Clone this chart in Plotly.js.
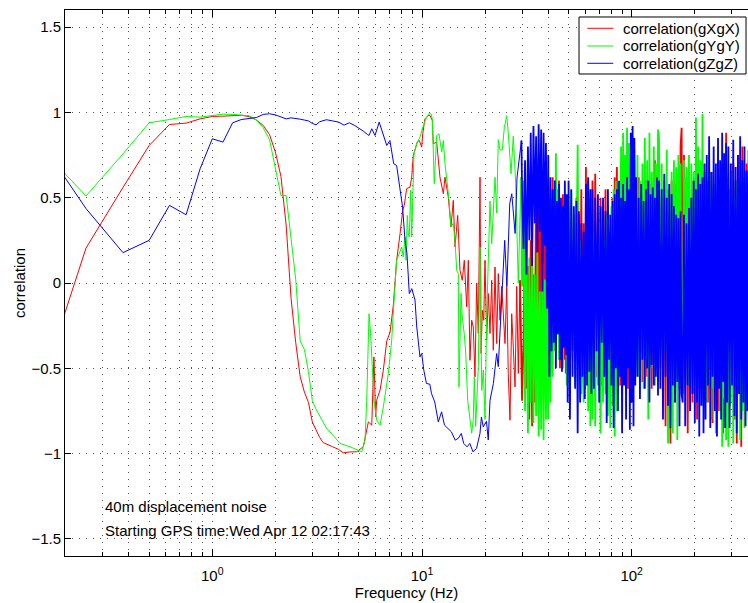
<!DOCTYPE html>
<html>
<head>
<meta charset="utf-8">
<script src="https://cdn.plot.ly/plotly-3.0.1.min.js"></script>
<style>
html,body{margin:0;padding:0;background:#fff;overflow:hidden;}
#chart{width:748px;height:603px;}
</style>
</head>
<body>
<div id="chart"></div>
<script>
// ---- low-frequency part (individual points) ----
const freqX = [0.125,0.25,0.375,0.5,0.625,0.75,0.875,1.0,1.125,1.25,1.375,1.5,1.625,1.75,1.875,2.0,2.125,2.25,2.375,2.5,
  2.625,2.75,2.875,3.0,3.125,3.25,3.375,3.5,3.75,4.0,4.21,4.54,4.88,5.25,5.55,5.76,5.90,6.01,6.08,6.31,
  6.54,6.79,7.04,7.30,7.57,7.86,8.09,8.23,8.45,8.77,8.93,9.09,9.26,9.50,9.71,9.97,10.08,10.33,10.72,10.92,
  11.2,11.32,11.75,12.18,12.64,12.87,13.35,13.75,14.1,14.37,14.8,15.18,15.56,15.91,16.34,16.63,16.93,17.26,17.56,17.89,
  18.23,18.56,18.91,19.14,19.40,19.70,19.97,20.35,20.71,21.1,21.5,21.88,22.29,22.71,23.11,23.55,23.99,24.88,25.35,25.79,
  26.28,26.78,27.25,27.77,28.29,28.79,29.34];
const corrX = [-0.93,0.205,0.56,0.806,0.929,0.937,0.962,0.976,0.978,0.982,0.983,0.975,0.955,0.923,0.87,0.767,0.625,0.34,-0.09,-0.35,
  -0.55,-0.64,-0.70,-0.815,-0.86,-0.905,-0.935,-0.945,-0.96,-0.975,-0.995,-0.99,-0.989,-0.96,-0.814,-0.833,-0.433,-0.785,-0.687,-0.628,
  -0.511,-0.34,-0.29,-0.13,0.133,0.289,0.426,0.455,0.553,0.562,0.62,0.748,0.777,0.826,0.835,0.796,0.875,0.962,0.982,0.982,
  0.952,0.816,0.826,0.62,0.523,0.62,0.503,0.328,0.484,0.211,0.396,0.074,0.016,0.133,-0.14,0.133,-0.453,-0.218,-0.258,-0.55,
  0.0,-0.296,0.62,-0.413,-0.16,-0.218,0.133,-0.335,-0.062,-0.296,0.016,-0.394,0.094,-0.355,0.055,-0.218,-0.02,-0.355,-0.02,-0.53,
  -0.804,-0.18,-0.375,-0.609,-0.02,-0.53,0.016];

const freqY = [0.125,0.25,0.375,0.5,0.625,0.75,0.875,1.0,1.125,1.25,1.375,1.5,1.625,1.75,1.875,2.0,2.125,2.25,2.375,2.5,
  2.625,2.75,2.875,3.0,3.125,3.25,3.375,3.5,3.75,4.06,4.54,4.97,5.16,5.35,5.45,5.59,5.69,5.90,6.08,6.31,
  6.54,6.91,7.17,7.36,7.57,8.00,8.14,8.30,8.39,8.51,8.60,8.70,8.83,8.93,9.03,9.16,9.43,9.78,10.14,10.53,
  10.83,11.04,11.2,11.44,11.75,12.05,12.42,12.64,12.87,13.12,13.45,13.75,14.1,14.37,14.64,14.9,15.01,15.35,15.56,15.91,
  16.16,16.52,16.93,17.26,17.56,17.76,18.03,18.56,18.91,19.27,19.61,19.97,20.35,20.71,21.1,21.5,21.88,22.29,22.71,23.11,
  23.55,24.15,24.69,25.35,25.79,26.57,27.25,27.98,28.79,29.66];
const corrY = [0.90,0.51,0.757,0.939,0.958,0.976,0.972,0.982,0.99,0.988,0.986,0.98,0.955,0.91,0.84,0.66,0.513,0.513,0.24,0.02,
  -0.34,-0.39,-0.52,-0.69,-0.74,-0.78,-0.82,-0.85,-0.89,-0.94,-0.96,-0.98,-0.989,-0.921,-0.687,-0.18,-0.296,-0.687,-0.804,-0.833,
  -0.726,-0.53,-0.335,-0.1,0.133,0.211,0.152,0.269,0.133,0.396,0.289,0.269,0.543,0.269,0.523,0.757,0.816,0.855,0.923,0.972,
  0.992,0.992,0.962,0.582,0.865,0.875,0.767,0.835,0.70,0.62,0.49,0.33,0.35,0.25,0.074,0.055,-0.61,-0.06,-0.20,-0.30,
  -0.41,-0.69,-0.82,-0.88,-0.80,-0.55,-0.84,-0.49,0.21,-0.63,-0.51,-0.80,-0.20,0.09,0.48,0.23,0.43,0.62,0.41,0.84,
  0.78,0.78,0.91,0.98,0.88,0.64,0.86,0.58,0.0,0.62];

const freqZ = [0.125,0.25,0.375,0.5,0.625,0.75,0.875,1.0,1.125,1.25,1.375,1.5,1.625,1.75,1.875,2.0,2.125,2.25,2.375,2.5,
  2.625,2.75,2.875,3.0,3.125,3.25,3.375,3.5,3.75,4.0,4.25,4.5,4.75,5.0,5.25,5.5,5.59,5.76,5.97,6.25,
  6.54,6.79,7.03,7.33,7.57,7.86,8.08,8.30,8.48,8.70,8.94,9.26,9.44,9.78,9.97,10.2,10.5,10.9,11.1,11.5,
  11.96,12.4,12.8,13.3,13.8,14.4,14.9,15.4,15.8,16.4,16.9,17.5,18.2,18.9,19.2,19.6,20.3,20.7,21.1,21.9,
  22.7,23.1,24.0,24.8,25.4,26.2,26.8,27.8,28.4,29.3,29.8];
const corrZ = [0.98,0.436,0.178,0.25,0.455,0.40,0.67,0.845,0.826,0.939,0.958,0.962,0.97,0.988,0.992,0.985,0.975,0.962,0.968,0.966,
  0.96,0.955,0.95,0.935,0.927,0.945,0.952,0.957,0.95,0.943,0.925,0.939,0.925,0.908,0.89,0.87,0.865,0.904,0.865,0.943,
  0.865,0.806,0.835,0.699,0.689,0.562,0.445,0.25,0.172,-0.062,-0.033,-0.10,-0.258,-0.433,-0.413,-0.511,-0.589,-0.593,-0.648,-0.697,
  -0.814,-0.755,-0.833,-0.853,-0.872,-0.921,-0.91,-0.882,-0.94,-0.96,-0.94,-0.989,-0.97,-0.882,-0.785,-0.843,-0.81,-0.92,-0.687,-0.589,
  -0.413,-0.49,-0.10,0.25,-0.02,0.465,0.523,0.29,0.62,0.757,0.835];

// ---- dense high-frequency part: shared frequency list, one row of 20 per band ----
const freqHi = [
  30,30.5,31,31.5,32,32.5,33,33.5,34,34.5,35,35.5,36,36.5,37,37.5,38,38.5,39,39.5,
  40,40.5,41,41.5,42,42.5,43,43.5,44,44.5,45,45.5,46,46.5,47,47.5,48,48.5,49,49.5,
  50,50.75,51.5,52.25,53,53.75,54.5,55.25,56,56.75,57.5,58.25,59,59.75,60.5,61.25,62,62.75,63.5,64.25,
  65,66,67,68,69,70,71,72,73,74,75,76,77,78,79,80,81,82,83,84,
  85,86,87,88,89,90,91,92,93,94,95,96,97,98,99,100,101,102,103,104,
  105,106.5,108,109.5,111,112.5,114,115.5,117,118.5,120,121.5,123,124.5,126,127.5,129,130.5,132,133.5,
  135,137,139,141,143,145,147,149,151,153,155,157,159,161,163,165,167,169,171,173,
  175,177.5,180,182.5,185,187.5,190,192.5,195,197.5,200,202.5,205,207.5,210,212.5,215,217.5,220,222.5,
  225,228,231,234,237,240,243,246,249,252,255,258,261,264,267,270,273,276,279,282,
  285,289,293,297,301,305,309,313,317,321,325,329,333,337,341,345,349,353,357,361];
const corrHiX = [
  -0.69,-0.33,0.55,-0.62,0.10,-0.80,0.25,-0.84,0.05,-0.70,0.68,-0.20,0.62,-0.45,0.48,-0.30,0.55,-0.38,0.40,-0.22,
  0.58,-0.35,0.50,-0.48,0.62,-0.25,0.45,-0.40,0.55,-0.30,0.60,-0.50,0.40,-0.35,0.52,-0.45,0.35,-0.53,0.45,-0.30,
  0.30,-0.55,0.45,-0.40,0.25,-0.60,0.50,-0.35,0.40,-0.50,0.55,-0.45,0.35,-0.62,0.68,-0.40,0.60,-0.58,0.50,-0.45,
  0.60,-0.45,0.64,-0.55,0.40,-0.30,0.50,-0.60,0.35,-0.40,0.55,-0.50,0.45,-0.35,0.30,-0.58,0.50,-0.45,0.62,-0.40,
  0.68,-0.40,0.55,-0.60,0.70,-0.35,0.45,-0.55,0.60,-0.30,0.50,-0.62,0.40,-0.45,0.65,-0.50,0.55,-0.38,0.72,-0.55,
  0.55,-0.45,0.62,-0.35,0.50,-0.58,0.45,-0.40,0.60,-0.55,0.40,-0.48,0.58,-0.62,0.48,-0.35,0.72,-0.50,0.55,-0.42,
  0.72,-0.40,0.50,-0.60,0.45,-0.84,0.55,-0.50,0.40,-0.94,0.60,-0.45,0.35,-0.70,0.58,-0.55,0.48,-0.62,0.80,0.91,
  -0.65,0.75,-0.50,0.62,-0.88,0.55,-0.45,0.48,-0.70,0.60,-0.52,0.45,-0.80,0.58,-0.40,0.50,-0.62,0.42,-0.55,0.65,
  -0.55,0.60,-0.70,0.50,-0.45,0.65,-0.82,0.55,-0.60,0.48,-0.50,0.62,-0.75,0.58,-0.48,0.70,-0.88,0.52,-0.60,0.88,
  -0.62,0.55,-0.72,0.65,-0.50,0.70,-0.80,0.60,-0.94,0.75,-0.65,0.58,-0.96,0.80,-0.55,0.62,-0.75,0.70,-0.60,0.55];
const corrHiY = [
  -0.02,0.60,-0.75,0.30,-0.88,0.15,-0.70,0.20,-0.82,0.05,-0.78,0.18,-0.90,-0.05,-0.86,0.12,-0.92,0.02,-0.80,-0.10,
  -0.80,0.10,-0.70,0.20,-0.55,0.35,-0.40,0.76,-0.30,0.55,-0.45,0.25,-0.38,0.18,-0.50,0.30,-0.35,0.45,-0.60,0.20,
  0.45,-0.50,0.54,-0.35,0.40,-0.60,0.30,0.81,-0.40,0.25,-0.65,-0.20,-0.70,0.10,-0.55,0.35,-0.75,0.40,-0.84,0.48,
  -0.80,0.30,-0.84,0.20,-0.60,0.35,-0.88,0.10,-0.70,0.25,-0.65,0.40,-0.78,0.15,-0.85,0.45,-0.72,0.55,-0.90,0.60,
  -0.75,0.50,-0.60,0.40,0.80,-0.50,0.88,-0.30,0.75,-0.45,0.91,-0.35,0.82,-0.55,0.70,-0.40,0.86,-0.25,0.78,-0.50,
  -0.40,0.75,-0.55,0.60,-0.30,0.70,-0.62,0.85,-0.45,0.72,-0.80,0.88,-0.50,0.65,-0.35,0.80,-0.60,0.70,-0.45,0.90,
  0.85,-0.50,0.70,-0.65,0.60,-0.40,0.78,-0.94,0.55,-0.70,0.65,-0.88,0.72,-0.55,0.68,-0.92,0.75,-0.60,0.70,-0.45,
  -0.50,0.72,-0.40,0.68,-0.60,0.75,-0.75,0.70,-0.45,0.65,-0.55,0.97,-0.50,0.80,-0.62,0.72,-0.40,0.99,-0.58,0.60,
  0.60,-0.70,0.55,-0.50,0.65,-0.80,0.50,-0.62,0.58,-0.88,0.45,-0.55,0.62,-0.75,0.50,-0.96,0.55,-0.68,0.60,-0.92,
  0.62,-0.96,0.55,-0.70,0.65,-0.94,0.50,-0.80,0.60,-0.60,0.58,-0.92,0.45,-0.75,0.55,-0.85,0.62,-0.70,0.50,-0.80];
const corrHiZ = [
  0.54,0.20,0.72,0.05,0.80,0.25,0.88,0.10,0.92,0.35,0.86,0.18,0.93,0.30,0.90,-0.05,0.88,0.22,0.82,-0.15,
  0.75,-0.55,0.62,-0.40,0.55,-0.35,0.60,-0.50,0.48,-0.30,0.58,-0.45,0.50,-0.52,0.45,-0.38,0.60,-0.42,0.52,-0.70,
  0.60,-0.80,0.55,-0.55,0.45,-0.62,0.48,-0.88,0.42,-0.70,0.35,-0.55,0.30,-0.68,0.58,-0.60,0.62,-0.52,0.55,-0.65,
  0.55,-0.62,0.50,-0.40,0.52,-0.70,0.45,-0.35,0.50,-0.55,0.42,-0.82,0.55,-0.45,0.40,-0.60,0.48,-0.85,0.52,-0.50,
  0.55,-0.75,0.60,-0.55,0.50,-0.88,0.58,-0.60,0.48,-0.80,0.62,-0.50,0.55,-0.86,0.88,-0.70,0.92,-0.84,0.85,-0.60,
  0.62,-0.55,0.50,-0.68,0.58,-0.45,0.48,-0.62,0.55,-0.50,0.60,-0.70,0.52,-0.48,0.56,-0.60,0.50,-0.55,0.62,-0.66,
  0.60,-0.62,0.55,-0.80,0.64,-0.55,0.50,-0.72,0.58,-0.85,0.52,-0.60,0.45,-0.70,0.40,-0.58,0.38,-0.84,0.42,-0.65,
  -0.70,0.40,-0.84,0.35,-0.60,0.44,-0.75,0.50,-0.65,0.60,-0.82,0.55,-0.70,0.64,-0.90,0.58,-0.72,0.62,-0.88,0.70,
  -0.80,0.75,-0.60,0.86,-0.85,0.65,-0.55,0.80,-0.75,0.70,-0.90,0.85,-0.62,0.72,-0.80,0.88,-0.58,0.76,-0.85,0.82,
  -0.70,0.80,-0.85,0.70,-0.60,0.84,-0.78,0.68,-0.88,0.75,-0.65,0.86,-0.80,0.72,-0.70,0.80,-0.84,0.66,-0.75,0.78];

const seriesNames = ['correlation(gXgX)','correlation(gYgY)','correlation(gZgZ)'];
const seriesColors = ['#ff0000','#00ff00','#0000ff'];
const yTicks = [-1.5,-1,-0.5,0,0.5,1,1.5];
const xTicks = [1,10,100];
const xTickText = ['10<sup>0</sup>','10<sup>1</sup>','10<sup>2</sup>'];
const xMinorTicks = [0.3,0.4,0.5,0.6,0.7,0.8,0.9,2,3,4,5,6,7,8,9,20,30,40,50,60,70,80,90,200,300];
const noteLines = ['40m displacement noise','Starting GPS time:Wed Apr 12 02:17:43'];

const lows = [[freqX,corrX],[freqY,corrY],[freqZ,corrZ]];
const highs = [corrHiX, corrHiY, corrHiZ];

const traces = [];
// smooth low-frequency part, width 1
lows.forEach((p,i)=>{
  const m = Math.min(p[0].length, p[1].length);
  traces.push({type:'scatter', mode:'lines', x:p[0].slice(0,m), y:p[1].slice(0,m),
    name:seriesNames[i], legendgroup:'g'+i, showlegend:false,
    line:{color:seriesColors[i], width:1}});
});
// dense noisy part, continues from the last low point
highs.forEach((v,i)=>{
  const n = Math.min(freqHi.length, v.length);
  const p = lows[i]; const m = Math.min(p[0].length, p[1].length);
  traces.push({type:'scatter', mode:'lines',
    x:[p[0][m-1]].concat(freqHi.slice(0,n)), y:[p[1][m-1]].concat(v.slice(0,n)),
    name:seriesNames[i], legendgroup:'g'+i, showlegend:false,
    line:{color:seriesColors[i], width:1.8}});
});

// legend drawn as box + samples + labels (compact like the reference)
const legY = [0.9665, 0.9341, 0.9024];
const shapes = [{type:'rect', xref:'paper', yref:'paper', x0:0.7526, x1:0.9971, y0:0.8828, y1:0.9872,
                 line:{color:'#000', width:1}, fillcolor:'#ffffff', layer:'above'}];
const legendNotes = [];
seriesNames.forEach((nm,i)=>{
  shapes.push({type:'line', xref:'paper', yref:'paper', x0:0.7647, x1:0.8028, y0:legY[i], y1:legY[i],
               line:{color:seriesColors[i], width:1}, layer:'above'});
  legendNotes.push({xref:'paper', yref:'paper', x:0.8135, y:legY[i], text:nm, showarrow:false,
               xanchor:'left', yanchor:'middle', font:{size:15}});
});

const gridCol = '#555';
const gridDash = '1px,6px';
const layout = {
  width:748, height:603,
  margin:{l:65, r:0, t:10, b:47},
  paper_bgcolor:'#ffffff', plot_bgcolor:'#ffffff',
  font:{family:'"Liberation Sans", Arial, Helvetica, sans-serif', size:15, color:'#000'},
  showlegend:false,
  xaxis:{type:'log', range:[-0.7024, 2.5546], tickmode:'array', tickvals:xTicks, ticktext:xTickText,
         ticks:'inside', ticklen:7, tickcolor:'#000', showline:true, linecolor:'#000', linewidth:1,
         mirror:'allticks', showgrid:true, gridcolor:gridCol, griddash:gridDash, gridwidth:1, zeroline:false,
         ticklabelstandoff:6,
         minor:{tickmode:'array', tickvals:xMinorTicks, ticks:'inside', ticklen:4, tickcolor:'#000',
                showgrid:true, gridcolor:gridCol, griddash:gridDash, gridwidth:1},
         title:{text:'Frequency (Hz)', font:{size:15}, standoff:4}},
  yaxis:{range:[-1.6,1.6], tickmode:'array', tickvals:yTicks, ticks:'inside', ticklen:6, tickcolor:'#000',
         showline:true, linecolor:'#000', linewidth:1, mirror:false, showgrid:true, gridcolor:gridCol,
         griddash:gridDash, gridwidth:1, zeroline:false,
         title:{text:'correlation', font:{size:15}}},
  shapes: shapes,
  annotations: noteLines.map((t,i)=>({xref:'x', yref:'y', x:Math.log10(0.3), y:[-1.307,-1.448][i],
       text:t, showarrow:false, xanchor:'left', yanchor:'middle', font:{size:15}})).concat(legendNotes)
};
Plotly.newPlot('chart', traces, layout, {displayModeBar:false, staticPlot:true});
</script>
</body>
</html>
